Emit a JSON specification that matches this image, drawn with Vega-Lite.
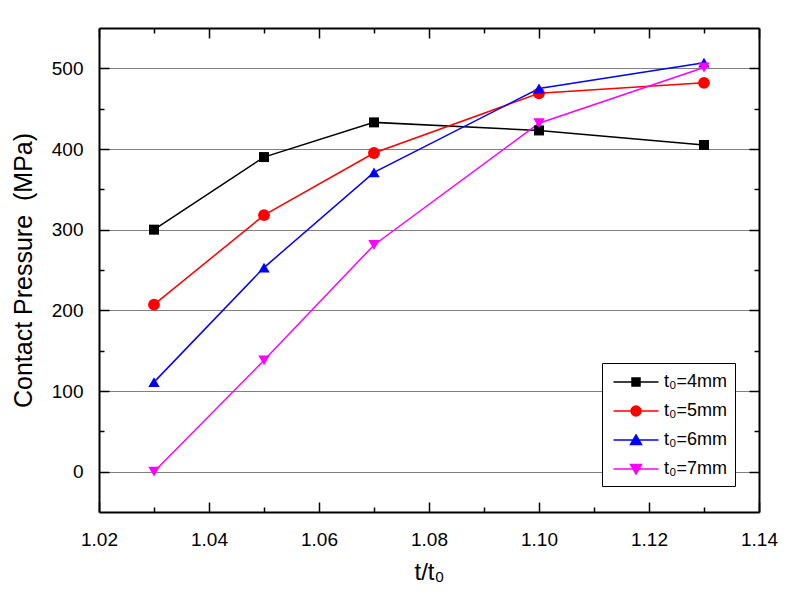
{
  "$schema": "https://vega.github.io/schema/vega-lite/v6.json",
  "autosize": {"type": "none"},
  "width": 660,
  "height": 484,
  "padding": {"left": 99, "top": 28, "right": 31, "bottom": 90},
  "background": "white",
  "config": {"view": {"stroke": null}, "font": "Liberation Sans"},
  "data": {"values": [
    {"x": 1.03, "y": 300, "s": "t₀=4mm"},
    {"x": 1.05, "y": 390, "s": "t₀=4mm"},
    {"x": 1.07, "y": 433, "s": "t₀=4mm"},
    {"x": 1.10, "y": 423, "s": "t₀=4mm"},
    {"x": 1.13, "y": 405, "s": "t₀=4mm"},
    {"x": 1.03, "y": 207, "s": "t₀=5mm"},
    {"x": 1.05, "y": 318, "s": "t₀=5mm"},
    {"x": 1.07, "y": 395, "s": "t₀=5mm"},
    {"x": 1.10, "y": 469, "s": "t₀=5mm"},
    {"x": 1.13, "y": 482, "s": "t₀=5mm"},
    {"x": 1.03, "y": 111, "s": "t₀=6mm"},
    {"x": 1.05, "y": 253, "s": "t₀=6mm"},
    {"x": 1.07, "y": 371, "s": "t₀=6mm"},
    {"x": 1.10, "y": 475, "s": "t₀=6mm"},
    {"x": 1.13, "y": 507, "s": "t₀=6mm"},
    {"x": 1.03, "y": 0, "s": "t₀=7mm"},
    {"x": 1.05, "y": 138, "s": "t₀=7mm"},
    {"x": 1.07, "y": 281, "s": "t₀=7mm"},
    {"x": 1.10, "y": 432, "s": "t₀=7mm"},
    {"x": 1.13, "y": 501, "s": "t₀=7mm"}
  ]},
  "resolve": {"axis": {"x": "independent", "y": "independent"}},
  "layer": [
    {"mark": {"type": "point", "opacity": 0}, "encoding": {
      "x": {"field": "x", "type": "quantitative", "scale": {"domain": [1.02, 1.14], "nice": false}, "axis": {"orient": "top", "values": [1.02,1.04,1.06,1.08,1.10,1.12,1.14], "labels": false, "title": null, "grid": false, "tickSize": -10, "tickColor": "black", "tickWidth": 1.5, "domainColor": "black", "domainWidth": 2}},
      "y": {"field": "y", "type": "quantitative", "scale": {"domain": [-50, 550], "nice": false}, "axis": {"orient": "right", "values": [0,100,200,300,400,500], "labels": false, "title": null, "grid": false, "tickSize": -10, "tickColor": "black", "tickWidth": 1.5, "domainColor": "black", "domainWidth": 2}}}},
    {"mark": {"type": "point", "opacity": 0}, "encoding": {
      "x": {"field": "x", "type": "quantitative", "axis": {"orient": "top", "values": [1.03,1.05,1.07,1.09,1.11,1.13], "labels": false, "title": null, "grid": false, "domain": false, "tickSize": -5, "tickColor": "black", "tickWidth": 1.5}},
      "y": {"field": "y", "type": "quantitative", "axis": {"orient": "right", "values": [50,150,250,350,450], "labels": false, "title": null, "grid": false, "domain": false, "tickSize": -5, "tickColor": "black", "tickWidth": 1.5}}}},
    {"mark": {"type": "point", "opacity": 0}, "encoding": {
      "x": {"field": "x", "type": "quantitative", "axis": {"orient": "bottom", "values": [1.03,1.05,1.07,1.09,1.11,1.13], "labels": false, "title": null, "grid": false, "domain": false, "tickSize": -5, "tickColor": "black", "tickWidth": 1.5}},
      "y": {"field": "y", "type": "quantitative", "axis": {"orient": "left", "values": [50,150,250,350,450], "labels": false, "title": null, "grid": false, "domain": false, "tickSize": -5, "tickColor": "black", "tickWidth": 1.5}}}},
    {"mark": {"type": "line", "strokeWidth": 1.5}, "encoding": {
      "x": {"field": "x", "type": "quantitative", "axis": {"orient": "bottom", "values": [1.02,1.04,1.06,1.08,1.10,1.12,1.14], "labelPadding": 28, "labelFlush": false, "labelFontSize": 19, "labelColor": "black",
        "title": "t/t₀", "titleFontSize": 24, "titleFontWeight": "normal", "titleColor": "black", "titlePadding": 11,
        "grid": false, "tickSize": -10, "tickColor": "black", "tickWidth": 1.5, "domainColor": "black", "domainWidth": 2}},
      "y": {"field": "y", "type": "quantitative", "axis": {"orient": "left", "values": [0,100,200,300,400,500], "labelPadding": 26, "labelFontSize": 19, "labelColor": "black",
        "title": "Contact Pressure\u00a0 (MPa)", "titleFontSize": 25, "titleFontWeight": "normal", "titleColor": "black", "titlePadding": 15,
        "grid": true, "gridColor": "#808080", "tickSize": -10, "tickColor": "black", "tickWidth": 1.5, "domainColor": "black", "domainWidth": 2}},
      "color": {"field": "s", "type": "nominal",
        "scale": {"domain": ["t₀=4mm", "t₀=5mm", "t₀=6mm", "t₀=7mm"], "range": ["#000000", "#ff0000", "#0000ff", "#ff00ff"]},
        "legend": {"title": null, "orient": "none", "legendX": 503, "legendY": 335,
          "strokeColor": "black", "fillColor": "white", "padding": 8,
          "labelFontSize": 18, "labelColor": "black",
          "symbolSize": 400, "symbolOffset": 15, "labelOffset": 17, "rowPadding": 9, "symbolStrokeWidth": 1.5,
          "encode": {"symbols": {"enter": {
            "shape": {"signal": "datum.value==='t₀=4mm' ? 'M-2.25,0H2.25M-0.4,-0.4H0.4V0.4H-0.4Z' : datum.value==='t₀=5mm' ? 'M-2.25,0H2.25M-0.5,0A0.5,0.5,0,1,1,0.5,0A0.5,0.5,0,1,1,-0.5,0Z' : datum.value==='t₀=6mm' ? 'M-2.25,0H2.25M0,-0.5L0.55,0.45L-0.55,0.45Z' : 'M-2.25,0H2.25M0,0.5L0.55,-0.45L-0.55,-0.45Z'"}
          }, "update": {
            "shape": {"signal": "datum.value==='t₀=4mm' ? 'M-2.25,0H2.25M-0.4,-0.4H0.4V0.4H-0.4Z' : datum.value==='t₀=5mm' ? 'M-2.25,0H2.25M-0.5,0A0.5,0.5,0,1,1,0.5,0A0.5,0.5,0,1,1,-0.5,0Z' : datum.value==='t₀=6mm' ? 'M-2.25,0H2.25M0,-0.5L0.55,0.45L-0.55,0.45Z' : 'M-2.25,0H2.25M0,0.5L0.55,-0.45L-0.55,-0.45Z'"},
            "fill": {"scale": "color", "field": "value"},
            "stroke": {"scale": "color", "field": "value"},
            "fillOpacity": {"value": 1},
            "strokeOpacity": {"value": 1}
          }}}
        }}}},
    {"transform": [{"filter": "datum.s==='t₀=4mm'"}],
      "mark": {"type": "point", "filled": true, "opacity": 1, "shape": "square", "size": 100, "color": "#000000"},
      "encoding": {"x": {"field": "x", "type": "quantitative", "axis": null}, "y": {"field": "y", "type": "quantitative", "axis": null}}},
    {"transform": [{"filter": "datum.s==='t₀=5mm'"}],
      "mark": {"type": "point", "filled": true, "opacity": 1, "shape": "circle", "size": 140, "color": "#ff0000"},
      "encoding": {"x": {"field": "x", "type": "quantitative", "axis": null}, "y": {"field": "y", "type": "quantitative", "axis": null}}},
    {"transform": [{"filter": "datum.s==='t₀=6mm'"}],
      "mark": {"type": "point", "filled": true, "opacity": 1, "shape": "triangle-up", "size": 130, "color": "#0000ff"},
      "encoding": {"x": {"field": "x", "type": "quantitative", "axis": null}, "y": {"field": "y", "type": "quantitative", "axis": null}}},
    {"transform": [{"filter": "datum.s==='t₀=7mm'"}],
      "mark": {"type": "point", "filled": true, "opacity": 1, "shape": "triangle-down", "size": 130, "color": "#ff00ff"},
      "encoding": {"x": {"field": "x", "type": "quantitative", "axis": null}, "y": {"field": "y", "type": "quantitative", "axis": null}}}
  ]
}
